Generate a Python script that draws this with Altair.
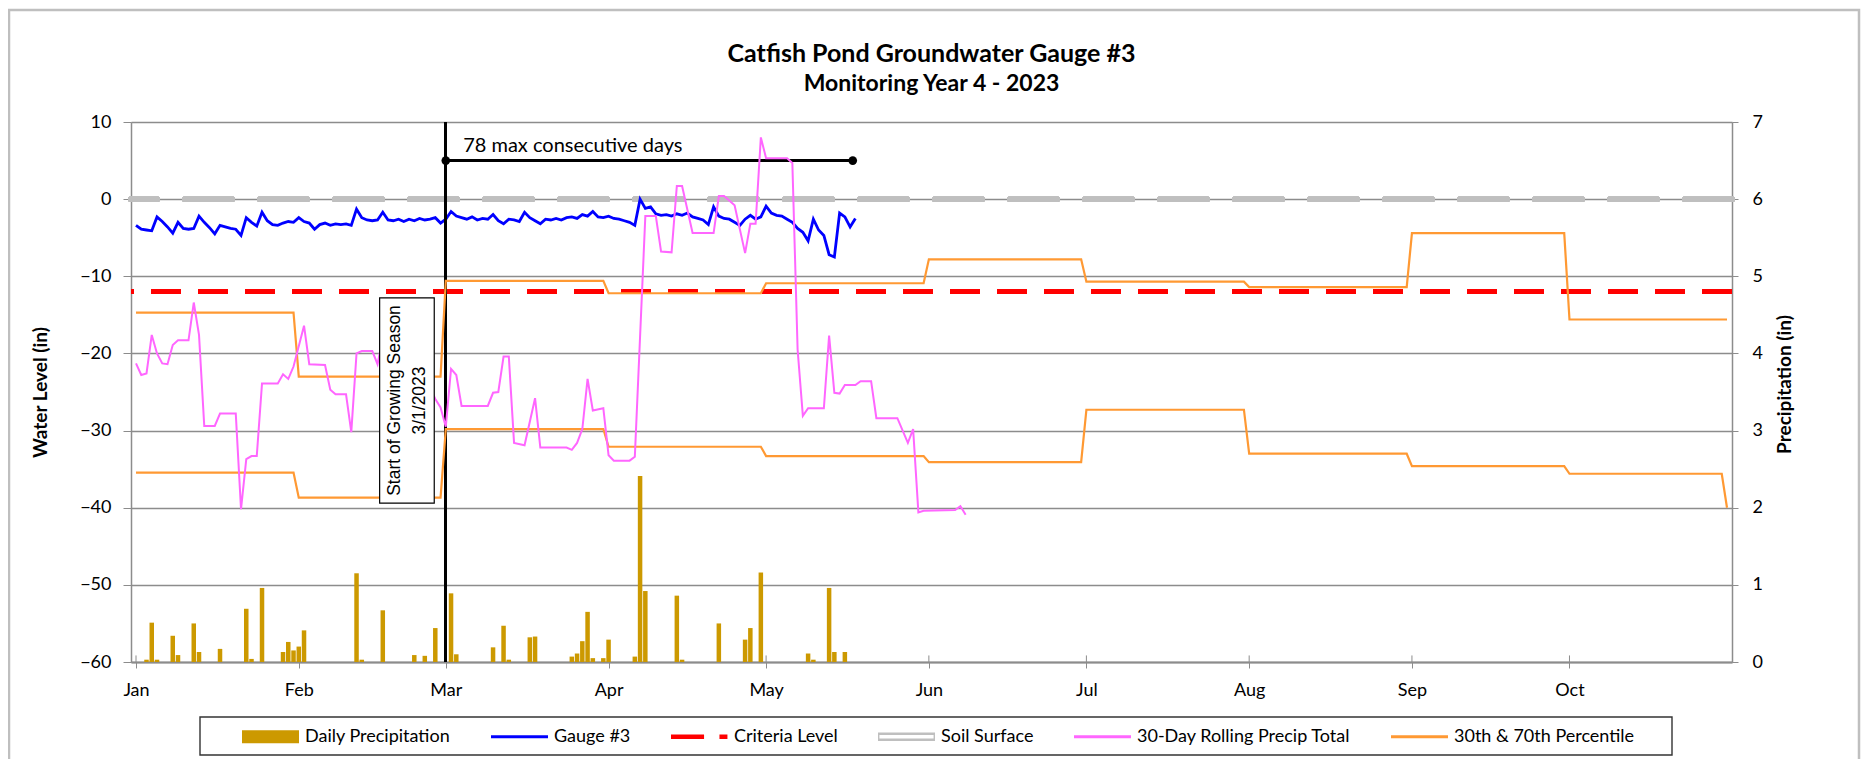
import altair as alt
import pandas as pd
from datetime import datetime, timedelta

# ---------------- data ----------------
YEAR_START = datetime(2023, 1, 1)

# Gauge #3 water level (in), one reading per day starting Jan 1
gauge_values = [
    -3.4, -3.9, -4.0, -4.1, -2.3, -2.9, -3.6, -4.4, -3.0, -3.8,
    -3.9, -3.8, -2.2, -3.0, -3.7, -4.5, -3.4, -3.6, -3.8, -3.9,
    -4.7, -2.4, -3.0, -3.5, -1.7, -2.8, -3.3, -3.4, -3.1, -2.9,
    -3.0, -2.4, -2.9, -3.1, -3.9, -3.3, -3.1, -3.4, -3.2, -3.3,
    -3.2, -3.4, -1.3, -2.4, -2.7, -2.8, -2.7, -1.7, -2.7, -2.8,
    -2.6, -2.9, -2.6, -2.8, -2.5, -2.7, -2.6, -2.4, -3.1, -2.6,
    -1.6, -2.2, -2.4, -2.6, -2.3, -2.7, -2.5, -2.6, -2.0, -2.8,
    -3.2, -2.6, -2.7, -2.9, -1.7, -2.4, -2.8, -3.2, -2.6, -2.7,
    -2.5, -2.7, -2.4, -2.3, -2.5, -2.0, -2.2, -1.6, -2.3, -2.4,
    -2.2, -2.5, -2.6, -2.8, -3.0, -3.4, 0.0, -1.2, -1.0, -1.9,
    -2.1, -2.0, -2.2, -1.9, -2.1, -1.8, -2.3, -2.5, -2.7, -3.3,
    -1.0, -2.2, -2.5, -2.6, -3.0, -3.4, -2.6, -2.1, -2.6, -2.3,
    -0.9, -1.8, -2.1, -2.2, -2.6, -3.0, -3.8, -4.3, -5.4, -2.6,
    -4.0, -4.7, -7.2, -7.5, -1.8, -2.3, -3.6, -2.5,
]

# Daily precipitation (in): day offset from Jan 1, amount
precip_days = [2, 3, 4, 7, 8, 11, 12, 16, 21, 22, 24, 28, 29, 30, 31, 32, 42, 43, 47,
               53, 55, 57, 60, 61, 68, 70, 71, 75, 76, 83, 84, 85, 86, 87, 89, 90,
               95, 96, 97, 103, 104, 111, 116, 117, 119, 128, 129, 132, 133, 135]
precip_values = [0.03, 0.51, 0.03, 0.34, 0.09, 0.50, 0.13, 0.17, 0.69, 0.04, 0.96, 0.13,
                 0.26, 0.15, 0.20, 0.41, 1.15, 0.03, 0.67, 0.09, 0.08, 0.44, 0.89, 0.10,
                 0.19, 0.47, 0.03, 0.32, 0.33, 0.07, 0.11, 0.27, 0.65, 0.05, 0.05, 0.29,
                 0.07, 2.41, 0.92, 0.86, 0.03, 0.50, 0.29, 0.44, 1.16, 0.11, 0.03, 0.96,
                 0.13, 0.13]

# 30-day rolling precipitation total (in): day offset, value
rolling_days = [0, 1, 2, 3, 4, 5, 6, 7, 8, 10, 11, 12, 13, 15, 16, 19, 20, 21, 22, 23,
                24, 27, 28, 29, 30, 32, 33, 36, 37, 38, 40, 41, 42, 43, 45, 46, 47, 50,
                53, 55, 57, 58, 59, 60, 61, 62, 67, 68, 69, 70, 71, 72, 74, 76, 77, 82,
                83, 84, 85, 86, 87, 89, 90, 91, 94, 95, 97, 99, 100, 102, 103, 104, 106,
                110, 111, 112, 114, 116, 117, 118, 119, 120, 124, 125, 126, 127, 128,
                131, 132, 133, 134, 135, 137, 138, 140, 141, 145, 147, 148, 149, 150,
                156, 157, 158]
rolling_values = [3.87, 3.72, 3.74, 4.24, 4.00, 3.87, 3.86, 4.11, 4.17, 4.17, 4.66, 4.24,
                  3.06, 3.06, 3.22, 3.22, 1.98, 2.63, 2.67, 2.67, 3.61, 3.61, 3.73, 3.67,
                  3.83, 4.36, 3.86, 3.85, 3.53, 3.47, 3.47, 2.98, 4.00, 4.03, 4.03, 3.86,
                  4.20, 4.15, 3.95, 3.70, 3.41, 3.30, 3.05, 3.80, 3.72, 3.32, 3.32, 3.49,
                  3.50, 3.96, 3.96, 2.84, 2.81, 3.42, 2.78, 2.78, 2.75, 2.84, 3.02, 3.67,
                  3.26, 3.29, 2.68, 2.61, 2.61, 2.66, 5.78, 5.78, 5.32, 5.31, 6.17, 6.17,
                  5.56, 5.56, 6.04, 6.04, 5.92, 5.30, 5.68, 5.68, 6.80, 6.53, 6.53, 6.47,
                  4.05, 3.19, 3.29, 3.29, 4.23, 3.49, 3.48, 3.59, 3.59, 3.64, 3.64, 3.16,
                  3.16, 2.84, 3.02, 1.94, 1.96, 1.97, 2.02, 1.91]

# Monthly 30th / 70th percentile of 30-day precipitation (in), Jan..Oct
months = [1, 2, 3, 4, 5, 6, 7, 8, 9, 10]
pct70 = [4.53, 3.70, 4.94, 4.78, 4.91, 5.22, 4.93, 4.86, 5.56, 4.44]
pct30 = [2.455, 2.13, 3.02, 2.79, 2.67, 2.59, 3.27, 2.70, 2.54, 2.44]
pct30_last = 2.0  # final reading on Oct 31

CRITERIA = -12
SOIL = 0
RUN_END = "2023-05-17T12:00:00Z"
RUN_LEVEL = 5
RUN_LABEL = "78 max consecutive days"
BOX_LABEL = "Start of Growing Season\n3/1/2023"

series_names = ["Daily Precipitation", "Gauge #3", "Criteria Level", "Soil Surface",
                "30-Day Rolling Precip Total", "30th & 70th Percentile"]
series_colors = ["#CC9900", "#0000FF", "#FF0000", "#BFBFBF", "#FF66FF", "#FF9933"]


def day_str(day):
    return (YEAR_START + timedelta(days=day)).strftime("%Y-%m-%dT%H:%M:%SZ")


# ---------------- tables ----------------
gauge_df = pd.DataFrame({"d": [day_str(i) for i in range(len(gauge_values))], "v": gauge_values})
precip_df = pd.DataFrame({"d": [day_str(i) for i in precip_days], "p": precip_values})
rolling_df = pd.DataFrame({"d": [day_str(i) for i in rolling_days], "p": rolling_values})

rows = []
for i, m in enumerate(months):
    start = datetime(2023, m, 1)
    end = datetime(2023, m + 1, 1) - timedelta(days=1)
    last_end = end - timedelta(days=1) if m == months[-1] else end
    for which, arr in (("70th", pct70), ("30th", pct30)):
        rows.append({"d": start.strftime("%Y-%m-%dT00:00:00Z"), "p": arr[i], "w": which})
        rows.append({"d": last_end.strftime("%Y-%m-%dT00:00:00Z"), "p": arr[i], "w": which})
rows.append({"d": "2023-10-31T00:00:00Z", "p": pct70[-1], "w": "70th"})
rows.append({"d": "2023-10-31T00:00:00Z", "p": pct30_last, "w": "30th"})
pct_df = pd.DataFrame(rows)

month_ticks = pd.DataFrame({"d": [datetime(2023, m, 1).strftime("%Y-%m-%dT00:00:00Z") for m in months]})
run_df = pd.DataFrame({"d": ["2023-03-01T00:00:00Z", RUN_END], "v": [RUN_LEVEL, RUN_LEVEL]})
run_text_df = pd.DataFrame({"d": [day_str(62.3)], "v": [6.9], "t": [RUN_LABEL]})
box_df = pd.DataFrame({"d": [day_str(46.4)], "d2": [day_str(56.8)], "p": [4.72], "p2": [2.06]})
box_text_df = pd.DataFrame({"d": [day_str(49.35)], "p": [3.39], "t": [BOX_LABEL]})
legend_df = pd.DataFrame({"series": series_names, "d": ["2023-01-01T00:00:00Z"] * 6,
                          "p": [float("nan")] * 6})

# ---------------- scales / axes ----------------
FONT = "Lato"
GRID = "#8c8c8c"

xscale = alt.Scale(type="utc", domain=[alt.DateTime(year=2023, month=1, date=1, utc=True),
                                       alt.DateTime(year=2023, month=10, date=31, utc=True)])
xaxis = alt.Axis(values=[alt.DateTime(year=2023, month=m, date=1, utc=True) for m in months],
                 format="%b", title=None, grid=False, labelFont=FONT, labelFontSize=18,
                 labelColor="black", tickSize=6, tickColor=GRID, domainColor=GRID,
                 domainWidth=2, labelPadding=13, labelFlush=False, labelOverlap=False)


def X(field="d"):
    return alt.X(f"{field}:T", scale=xscale, axis=xaxis)


left_scale = alt.Scale(domain=[-60, 10], nice=False, zero=False)
left_axis = alt.Axis(values=list(range(-60, 11, 10)), title="Water Level (in)",
                     titleFont=FONT, titleFontSize=19, titleFontWeight="bold", titleColor="black",
                     titleAngle=270, titleX=-91, titleY=270, titleAlign="center",
                     titleBaseline="middle", labelFont=FONT, labelFontSize=18,
                     labelColor="black", tickSize=8, tickColor=GRID, domainColor=GRID,
                     domainWidth=1.5, labelPadding=12, grid=True, gridColor=GRID,
                     gridWidth=1.3)
right_scale = alt.Scale(domain=[0, 7], nice=False, zero=False)
right_axis = alt.Axis(orient="right", values=list(range(0, 8)), title="Precipitation (in)",
                      titleFont=FONT, titleFontSize=19, titleFontWeight="bold",
                      titleColor="black", titleAngle=270, titleX=52, titleY=262,
                      titleAlign="center", titleBaseline="middle", labelFont=FONT,
                      labelFontSize=18, labelColor="black", tickSize=6, tickColor=GRID,
                      domainColor=GRID, domainWidth=1.5, labelPadding=14, grid=False)


def YL(field="v"):
    return alt.Y(f"{field}:Q", scale=left_scale, axis=left_axis)


def YR(field="p"):
    return alt.Y(f"{field}:Q", scale=right_scale, axis=right_axis)


# ---------------- water level layers ----------------
soil = alt.Chart(gauge_df).mark_rule(color="#BFBFBF", strokeWidth=5.5, strokeDash=[47, 28],
                                     strokeCap="round").encode(
    y=alt.Y(datum=SOIL, type="quantitative", scale=left_scale, axis=left_axis))
criteria = alt.Chart(gauge_df).mark_rule(color="#FF0000", strokeWidth=4.8,
                                         strokeDash=[30, 17]).encode(
    y=alt.Y(datum=CRITERIA, type="quantitative", scale=left_scale, axis=left_axis))
inner_ticks = alt.Chart(month_ticks).mark_rule(color=GRID, strokeWidth=1).encode(
    x=X(), y=alt.Y(datum=-60, type="quantitative", scale=left_scale, axis=left_axis),
    y2=alt.datum(-59.15))
gauge = alt.Chart(gauge_df).mark_line(color="#0000FF", strokeWidth=2.8).encode(x=X(), y=YL())
grow_line = alt.Chart(gauge_df).mark_rule(color="black", strokeWidth=2).encode(
    x=alt.X(datum=alt.DateTime(year=2023, month=3, date=1, utc=True), type="temporal",
            scale=xscale, axis=xaxis))
run_line = alt.Chart(run_df).mark_line(color="black", strokeWidth=3).encode(x=X(), y=YL())
run_pts = alt.Chart(run_df).mark_point(filled=True, color="black", size=75, opacity=1,
                                       shape="circle").encode(x=X(), y=YL())
run_text = alt.Chart(run_text_df).mark_text(align="left", baseline="middle", font=FONT,
                                            fontSize=20, color="black").encode(
    x=X(), y=YL(), text="t:N")

water = alt.layer(soil, criteria, inner_ticks, gauge, grow_line, run_line, run_pts, run_text)

# ---------------- precipitation layers ----------------
bars = alt.Chart(precip_df).mark_bar(color="#CC9900", size=4.5).encode(x=X(), y=YR())
pct = alt.Chart(pct_df).mark_line(color="#FF9933", strokeWidth=2.2).encode(
    x=X(), y=YR(), detail="w:N")
rolling = alt.Chart(rolling_df).mark_line(color="#FF66FF", strokeWidth=2).encode(x=X(), y=YR())
box = alt.Chart(box_df).mark_rect(fill="white", stroke="black", strokeWidth=1.2).encode(
    x=X(), x2="d2:T", y=YR(), y2="p2:Q")
box_text = alt.Chart(box_text_df).mark_text(angle=270, lineBreak="\n", align="center",
                                            baseline="middle", font="Liberation Sans",
                                            fontSize=17.5, lineHeight=25, color="black").encode(
    x=X(), y=YR(), text="t:N")

paths = [
    "M-1,-0.23H1V0.23H-1Z",
    "M-1,-0.05H1V0.05H-1Z",
    "M-1,-0.08H0.16V0.08H-1Z M0.7,-0.08H0.98V0.08H0.7Z",
    "M-1,-0.15H1V0.15H-1Z M-0.95,-0.06V0.06H0.95V-0.06Z",
    "M-1,-0.05H1V0.05H-1Z",
    "M-1,-0.05H1V0.05H-1Z",
]
leg = alt.Legend(title=None, orient="none", legendX=111, legendY=586, direction="horizontal",
                 columns=6, symbolSize=3249, symbolStrokeWidth=0, labelFont=FONT,
                 labelFontSize=18, labelColor="black", labelOffset=6, columnPadding=40,
                 padding=0, labelLimit=400, symbolOpacity=1)
legend_layer = alt.Chart(legend_df).mark_point(filled=True, size=3249, opacity=1).encode(
    x=X(), y=YR(),
    color=alt.Color("series:N", scale=alt.Scale(domain=series_names, range=series_colors),
                    legend=leg),
    shape=alt.Shape("series:N", scale=alt.Scale(domain=series_names, range=paths), legend=leg))

one = alt.Data(values=[{"k": 1}])
frame = alt.Chart(one).mark_rect(fill="transparent", stroke="#BFBFBF", strokeWidth=2.5).encode(
    x=alt.value(-122), x2=alt.value(1728), y=alt.value(-112), y2=alt.value(640))
legend_box = alt.Chart(one).mark_rect(fill="transparent", stroke="#333333",
                                      strokeWidth=1.4).encode(
    x=alt.value(69), x2=alt.value(1541), y=alt.value(595), y2=alt.value(633))

precip = alt.layer(bars, pct, rolling, box, box_text, legend_layer, frame, legend_box)

chart = alt.layer(water, precip).resolve_scale(y="independent").properties(
    width=1601, height=540,
    autosize=alt.AutoSizeParams(type="none"),
    padding={"left": 123, "top": 114, "right": 132, "bottom": 97},
    title=alt.TitleParams(text="Catfish Pond Groundwater Gauge #3",
                          subtitle="Monitoring Year 4 - 2023", font=FONT, fontSize=25,
                          fontWeight="bold", color="black", subtitleFont=FONT,
                          subtitleFontSize=23, subtitleFontWeight="bold",
                          subtitleColor="black", anchor="middle", offset=-87,
                          subtitlePadding=6),
).configure_view(stroke="transparent").configure(font=FONT)

chart.save("out.html", embed_options={"renderer": "svg", "actions": False})
